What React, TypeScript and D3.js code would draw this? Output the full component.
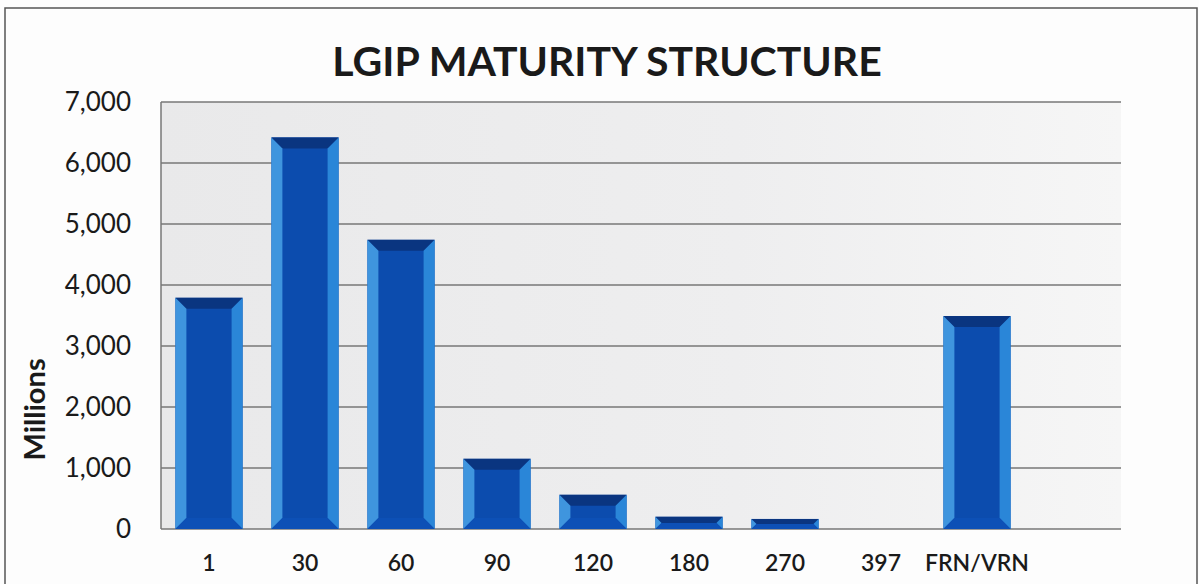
import * as d3 from "d3";

const WIDTH = 1199;
const HEIGHT = 584;
const MARGIN = { top: 102, right: 78, bottom: 55, left: 161 };

const TITLE = "LGIP MATURITY STRUCTURE";
const Y_LABEL = "Millions";
// last slot is an empty category, as in the source sheet
const CATEGORIES = ["1", "30", "60", "90", "120", "180", "270", "397", "FRN/VRN", ""];
const VALUES = [3790, 6420, 4740, 1150, 560, 200, 165, 0, 3490, 0];
const Y_TICKS = [0, 1000, 2000, 3000, 4000, 5000, 6000, 7000];

const FONT = "Lato, 'Open Sans', sans-serif";

export default function App() {
  const boundsWidth = WIDTH - MARGIN.left - MARGIN.right;
  const boundsHeight = HEIGHT - MARGIN.top - MARGIN.bottom;

  const xScale = d3
    .scaleBand()
    .domain(CATEGORIES.map((c, i) => `${i}`))
    .range([0, boundsWidth])
    .paddingInner(0.3)
    .paddingOuter(0.15);

  const yScale = d3.scaleLinear().domain([0, 7000]).range([boundsHeight, 0]);
  const fmt = d3.format(",");

  const bars = VALUES.map((v, i) => {
    if (!v) return null;
    const x = xScale(`${i}`) ?? 0;
    const w = xScale.bandwidth();
    const y = yScale(v);
    const h = boundsHeight - y;
    const b = Math.min(11, h / 2, w / 2);
    const x2 = x + w;
    const y2 = y + h;
    return (
      <g key={i}>
        <rect x={x} y={y} width={w} height={h} fill="#0c4cae" />
        <polygon points={`${x},${y} ${x2},${y} ${x2 - b},${y + b} ${x + b},${y + b}`} fill="#0a3580" />
        <polygon points={`${x},${y} ${x + b},${y + b} ${x + b},${y2 - b} ${x},${y2}`} fill="#3f95de" />
        <polygon points={`${x2},${y} ${x2},${y2} ${x2 - b},${y2 - b} ${x2 - b},${y + b}`} fill="#2a86d8" />
        <polygon points={`${x},${y2} ${x + b},${y2 - b} ${x2 - b},${y2 - b} ${x2},${y2}`} fill="#0d50b6" />
      </g>
    );
  });

  return (
    <svg
      width={WIDTH}
      height={HEIGHT}
      style={{ position: "absolute", left: 0, top: 0, background: "#fdfdfd" }}
    >
      <defs>
        <linearGradient id="plotBg" x1="0" x2="1" y1="0" y2="0">
          <stop offset="0" stopColor="#e9e9ea" />
          <stop offset="0.6" stopColor="#eeeeef" />
          <stop offset="1" stopColor="#f6f6f6" />
        </linearGradient>
      </defs>
      <rect x={5} y={8} width={1192} height={590} fill="#fdfdfd" stroke="#555" strokeWidth={1.5} />
      <text
        x={607}
        y={76}
        textAnchor="middle"
        fontFamily={FONT}
        fontWeight="bold"
        fontSize={41}
        fill="#1a1a1a"
      >
        {TITLE}
      </text>
      <g transform={`translate(${MARGIN.left},${MARGIN.top})`}>
        <rect width={boundsWidth} height={boundsHeight} fill="url(#plotBg)" />
        {Y_TICKS.map((t) => (
          <line
            key={t}
            x1={0}
            x2={boundsWidth}
            y1={yScale(t)}
            y2={yScale(t)}
            stroke="#777"
            strokeWidth={1.5}
          />
        ))}
        <line x1={0} x2={0} y1={0} y2={boundsHeight} stroke="#777" strokeWidth={1.5} />
        {bars}
        {Y_TICKS.map((t) => (
          <text
            key={`y${t}`}
            x={-30}
            y={yScale(t)}
            dy="0.35em"
            textAnchor="end"
            fontFamily={FONT}
            fontSize={26}
            fill="#1a1a1a"
          >
            {fmt(t)}
          </text>
        ))}
        {CATEGORIES.map((c, i) => (
          <text
            key={`x${i}`}
            x={(xScale(`${i}`) ?? 0) + xScale.bandwidth() / 2}
            y={boundsHeight + 42}
            textAnchor="middle"
            fontFamily={FONT}
            fontSize={23}
            fontWeight={600}
            fill="#1a1a1a"
          >
            {c}
          </text>
        ))}
      </g>
      <text
        transform={`translate(45,${MARGIN.top + boundsHeight * 0.72}) rotate(-90)`}
        textAnchor="middle"
        fontFamily={FONT}
        fontWeight="bold"
        fontSize={29}
        fill="#1a1a1a"
      >
        {Y_LABEL}
      </text>
    </svg>
  );
}
